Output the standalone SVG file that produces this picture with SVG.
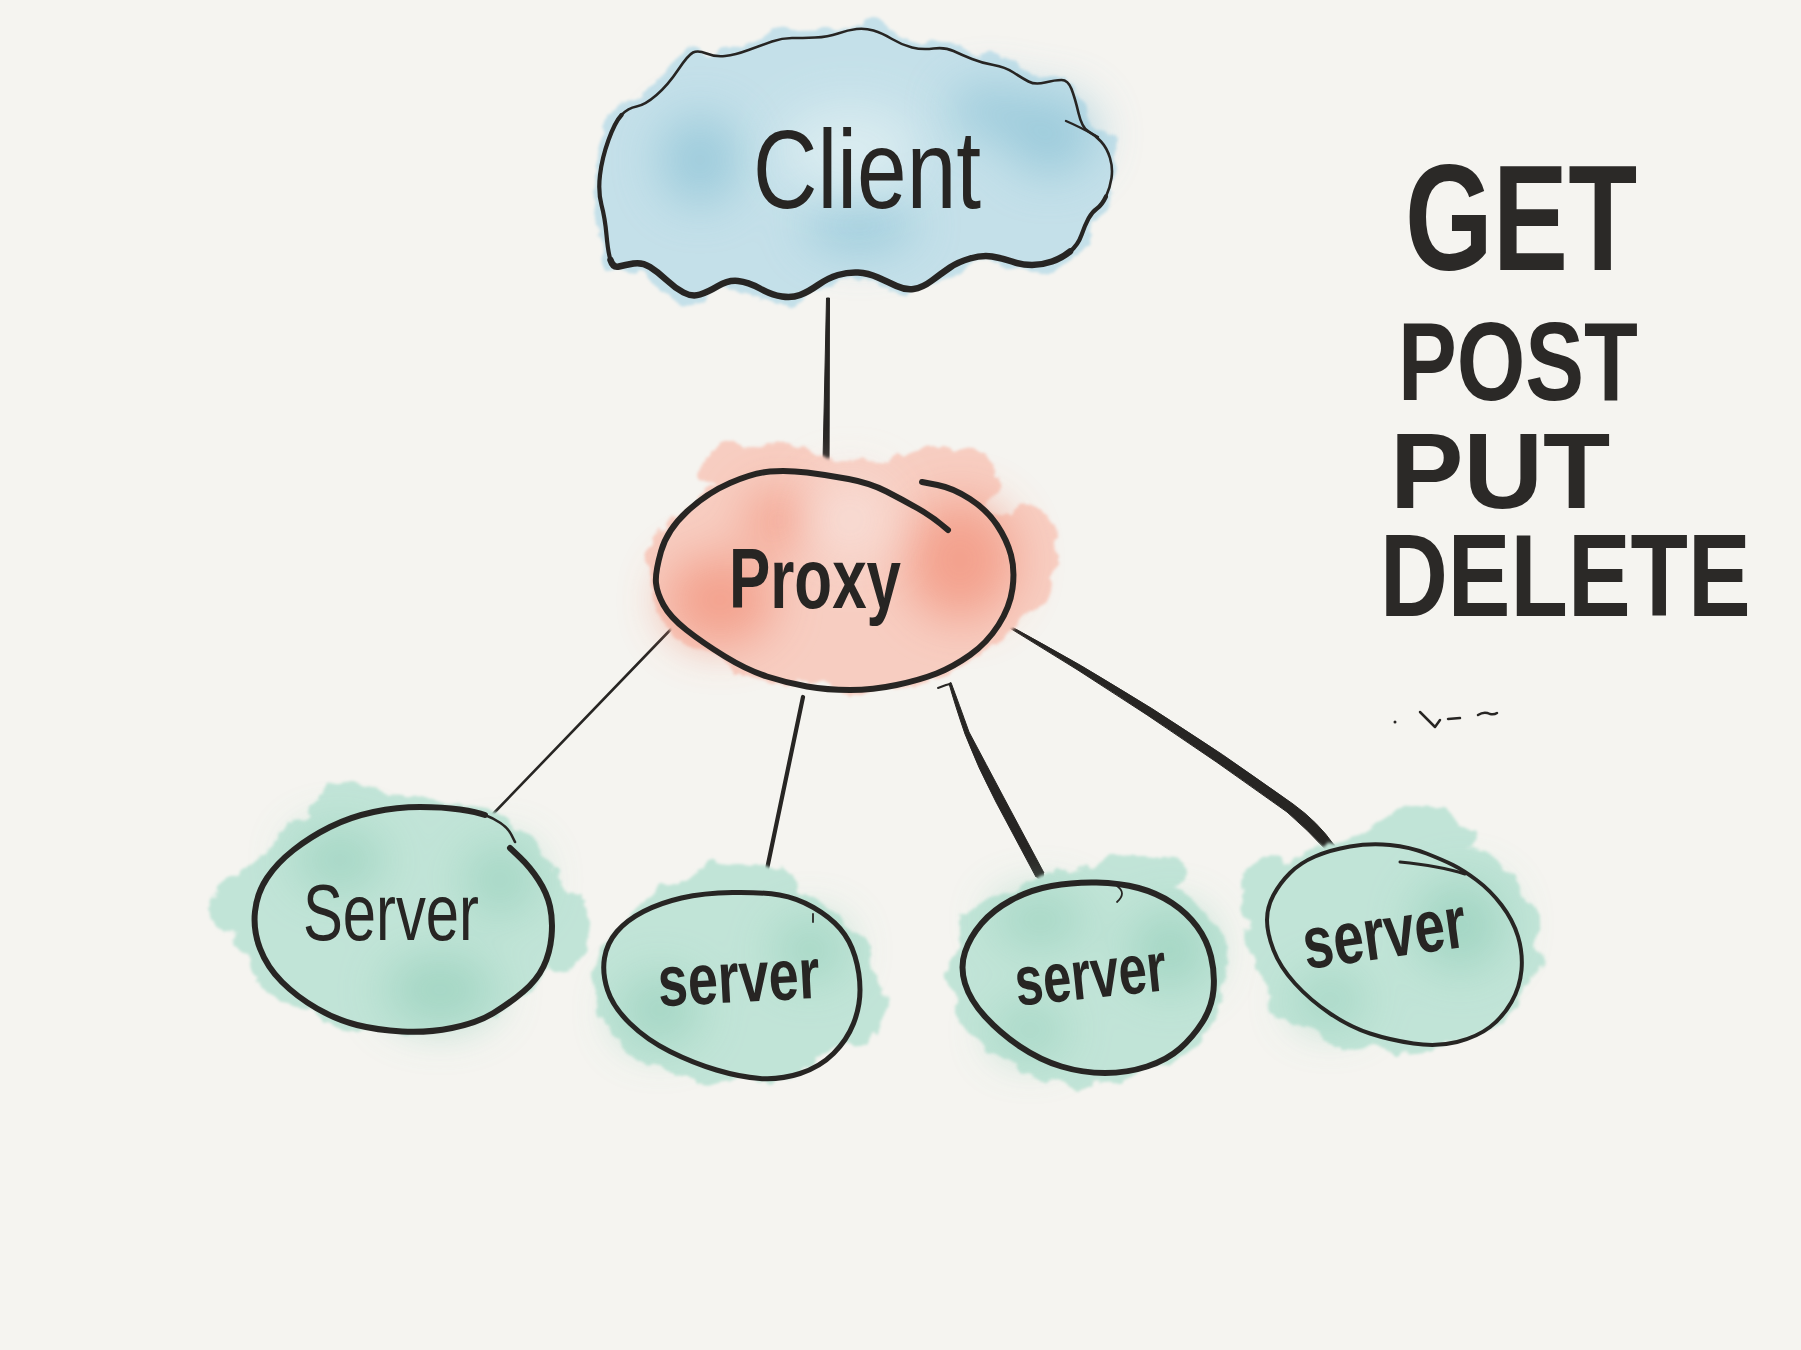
<svg xmlns="http://www.w3.org/2000/svg" width="1801" height="1350" viewBox="0 0 1801 1350">
<defs>
<style>
.ink{fill:none;stroke:#272523;stroke-linecap:round;stroke-linejoin:round}
.inkf{fill:#272523;stroke:#272523;stroke-linejoin:round;stroke-width:1}
.lbl{font-family:"Liberation Sans","DejaVu Sans",sans-serif;fill:#272523}
.big{font-family:"Liberation Sans","DejaVu Sans",sans-serif;font-weight:bold;fill:#2b2927}
</style>
<filter id="wc" x="-30%" y="-30%" width="160%" height="160%">
<feTurbulence type="fractalNoise" baseFrequency="0.03" numOctaves="4" seed="7" result="t"/>
<feDisplacementMap in="SourceGraphic" in2="t" scale="26" xChannelSelector="R" yChannelSelector="G" result="d"/>
<feGaussianBlur in="d" stdDeviation="1.5"/>
</filter>
<filter id="blot" x="-60%" y="-60%" width="220%" height="220%">
<feGaussianBlur stdDeviation="24"/>
</filter>
</defs>
<rect width="1801" height="1350" fill="#f5f4f0"/>

<g id="connectors">
<path class="inkf" d="M826.5,298 L829.5,298 L829,484 L822.5,484 Z"/>
<circle cx="825.7" cy="484" r="3.4" fill="#272523"/>
<path class="ink" stroke-width="2.6" d="M675,625 L492,815"/>
<path class="ink" stroke-width="4.2" d="M803,697 L762,893"/>
<path class="ink" stroke-width="2" d="M938,688 L946,685 L950,684"/>
<path class="inkf" d="M949,683.5 Q955,705 965,734 Q978,768 996,802 L1036,877 L1044,873 L1004,798 Q986,764 969,732 Q959,704 951,682.5 Z"/>
<circle cx="1040" cy="875" r="4.2" fill="#272523"/>
<path class="inkf" d="M1010.6,626.2 Q1152,702 1293,804 Q1318,822 1334,845 L1327,851 Q1308,830 1287,812 Q1146,710 1009.4,627.8 Z"/>
<circle cx="1331" cy="848" r="4.8" fill="#272523"/>
</g>

<g id="client">
<path filter="url(#wc)" fill="#c4e0e9" stroke="#c4e0e9" stroke-width="14" d="M601.5,205 Q598,192 600,175 Q602,158 608.5,140 Q615,122 621.5,115 Q628,108 636.5,106.5 Q645,105 656.5,95 Q668,85 678,70 Q688,55 693,52.5 Q698,50 706.5,53.5 Q715,57 725,56 Q735,55 748.5,50 Q762,45 772,41.5 Q782,38 792,38 Q802,38 815,37.5 Q828,37 838,33.5 Q848,30 856.5,29 Q865,28 873.5,30.5 Q882,33 892,39 Q902,45 912,47.5 Q922,50 933.5,48.5 Q945,47 953.5,51 Q962,55 972,59 Q982,63 993.5,65 Q1005,67 1013.5,72.5 Q1022,78 1028.5,81.5 Q1035,85 1045,82.5 Q1055,80 1061.5,80 Q1068,80 1071.5,89 Q1075,98 1078.5,113 Q1082,128 1088.5,131.5 Q1095,135 1101,141.5 Q1107,148 1110,158 Q1113,168 1111.5,178 Q1110,188 1106,196.5 Q1102,205 1097,208.5 Q1092,212 1088.5,218.5 Q1085,225 1081.5,235 Q1078,245 1070,251.5 Q1062,258 1052,261.5 Q1042,265 1032,265 Q1022,265 1012,261.5 Q1002,258 992,256.5 Q982,255 970,258.5 Q958,262 950,267.5 Q942,273 932,280.5 Q922,288 913.5,289 Q905,290 896.5,286 Q888,282 878,277.5 Q868,273 858,272.5 Q848,272 838,275 Q828,278 818,285 Q808,292 800,295 Q792,298 782,296.5 Q772,295 760,288.5 Q748,282 738,281 Q728,280 718,286 Q708,292 700,294.5 Q692,297 683.5,292.5 Q675,288 666.5,280 Q658,272 650,267 Q642,262 633.5,263.5 Q625,265 619,266.5 Q613,268 610.5,260 Q608,252 606.5,235 Q605,218 601.5,205 Z"/>
<g filter="url(#blot)" fill="#93c6d8" opacity="0.8">
<ellipse cx="1050" cy="135" rx="45" ry="40"/>
<ellipse cx="700" cy="160" rx="40" ry="45"/>
<ellipse cx="860" cy="225" rx="55" ry="25"/>
<ellipse cx="990" cy="110" rx="40" ry="25"/>
</g>
<g filter="url(#blot)" fill="#dcedf1" opacity="0.9">
<ellipse cx="850" cy="150" rx="70" ry="45"/>
</g>
<path class="ink" stroke-width="2.6" d="M601.5,205 Q598,192 600,175 Q602,158 608.5,140 Q615,122 621.5,115 Q628,108 636.5,106.5 Q645,105 656.5,95 Q668,85 678,70 Q688,55 693,52.5 Q698,50 706.5,53.5 Q715,57 725,56 Q735,55 748.5,50 Q762,45 772,41.5 Q782,38 792,38 Q802,38 815,37.5 Q828,37 838,33.5 Q848,30 856.5,29 Q865,28 873.5,30.5 Q882,33 892,39 Q902,45 912,47.5 Q922,50 933.5,48.5 Q945,47 953.5,51 Q962,55 972,59 Q982,63 993.5,65 Q1005,67 1013.5,72.5 Q1022,78 1028.5,81.5 Q1035,85 1045,82.5 Q1055,80 1061.5,80 Q1068,80 1071.5,89 Q1075,98 1078.5,113 Q1082,128 1088.5,131.5 Q1095,135 1101,141.5 Q1107,148 1110,158 Q1113,168 1111.5,178 Q1110,188 1106,196.5"/>
<path class="ink" stroke-width="4.2" d="M1106,196.5 Q1102,205 1097,208.5 Q1092,212 1088.5,218.5 Q1085,225 1081.5,235 Q1078,245 1070,251.5"/>
<path class="ink" stroke-width="6.5" d="M1070,251.5 Q1062,258 1052,261.5 Q1042,265 1032,265 Q1022,265 1012,261.5 Q1002,258 992,256.5 Q982,255 970,258.5 Q958,262 950,267.5 Q942,273 932,280.5 Q922,288 913.5,289 Q905,290 896.5,286 Q888,282 878,277.5 Q868,273 858,272.5 Q848,272 838,275 Q828,278 818,285 Q808,292 800,295 Q792,298 782,296.5 Q772,295 760,288.5 Q748,282 738,281 Q728,280 718,286 Q708,292 700,294.5 Q692,297 683.5,292.5 Q675,288 666.5,280 Q658,272 650,267 Q642,262 633.5,263.5 Q625,265 619,266.5 Q613,268 610.5,260"/>
<path class="ink" stroke-width="4.2" d="M610.5,260 Q608,252 606.5,235 Q605,218 601.5,205 Q598,192 600,175 Q602,158 608.5,140 Q615,122 621.5,115"/>
<path class="ink" stroke-width="2.4" d="M1066,121 Q1080,127 1098,137"/>
<text class="lbl" x="753" y="208" font-size="112" textLength="228" lengthAdjust="spacingAndGlyphs">Client</text>
</g>

<g id="proxy">
<g filter="url(#wc)" fill="#f7cdc1">
<ellipse cx="842" cy="575" rx="192" ry="116"/>
<ellipse cx="760" cy="470" rx="60" ry="28"/>
<ellipse cx="940" cy="480" rx="60" ry="30"/>
<ellipse cx="1030" cy="560" rx="30" ry="50"/>
</g>
<g filter="url(#blot)" fill="#f39a84" opacity="0.85">
<ellipse cx="960" cy="560" rx="55" ry="60"/>
<ellipse cx="720" cy="600" rx="55" ry="45"/>
<ellipse cx="780" cy="520" rx="35" ry="30"/>
</g>
<g filter="url(#blot)" fill="#f8ddd5" opacity="0.9">
<ellipse cx="850" cy="520" rx="45" ry="45"/>
</g>
<path class="ink" stroke-width="6" d="M922,482 L937.5,485 Q953,488 970,499 Q987,510 997,525 Q1007,540 1011,555 Q1015,570 1012.5,588.5 Q1010,607 998.5,625 Q987,643 970,655 Q953,667 936.5,673.5 Q920,680 896.5,685 Q873,690 850,690 Q827,690 807,686.5 Q787,683 767,676.5 Q747,670 725,656.5 Q703,643 686.5,630 Q670,617 663.5,605 Q657,593 656,583 Q655,573 661,551.5 Q667,530 687,511.5 Q707,493 730,483 Q753,473 770,471.5 Q787,470 807,472.5 Q827,475 848.5,479 Q870,483 886.5,491.5 Q903,500 918,508.5 Q933,517 948,530"/>
<text class="lbl" x="729" y="608" font-size="86" font-weight="bold" textLength="172" lengthAdjust="spacingAndGlyphs">Proxy</text>
</g>

<g id="server1">
<g filter="url(#wc)" fill="#c1e4d7">
<ellipse cx="402" cy="915" rx="168" ry="118"/>
<ellipse cx="250" cy="905" rx="40" ry="30"/>
<ellipse cx="560" cy="930" rx="30" ry="40"/>
<ellipse cx="360" cy="810" rx="50" ry="25"/>
</g>
<g filter="url(#blot)" fill="#9dd3c0" opacity="0.85">
<ellipse cx="440" cy="990" rx="55" ry="35"/>
<ellipse cx="340" cy="860" rx="45" ry="30"/>
<ellipse cx="500" cy="880" rx="35" ry="35"/>
</g>
<path class="ink" stroke-width="6" d="M510,848 L520,857.5 Q530,867 538.5,880 Q547,893 550,906.5 Q553,920 551.5,936.5 Q550,953 543.5,966.5 Q537,980 523.5,991.5 Q510,1003 493.5,1013 Q477,1023 452,1028 Q427,1033 402,1031.5 Q377,1030 357,1025 Q337,1020 317,1008.5 Q297,997 282,982 Q267,967 260,948.5 Q253,930 255,911.5 Q257,893 267,878 Q277,863 293.5,850 Q310,837 330,827 Q350,817 373.5,812 Q397,807 420,807 Q443,807 460,809.5 Q477,812 485,815"/>
<path class="ink" stroke-width="2.6" d="M485,815 Q493,818 500.5,823 Q508,828 511.5,835 L515,842"/>
<text class="lbl" x="303" y="940" font-size="80" textLength="176" lengthAdjust="spacingAndGlyphs">Server</text>
</g>

<g id="server2">
<g filter="url(#wc)" fill="#c1e4d7">
<ellipse cx="733" cy="982" rx="140" ry="102"/>
<ellipse cx="740" cy="885" rx="60" ry="22"/>
<ellipse cx="860" cy="1000" rx="25" ry="40"/>
</g>
<g filter="url(#blot)" fill="#9dd3c0" opacity="0.85">
<ellipse cx="660" cy="1010" rx="40" ry="35"/>
<ellipse cx="810" cy="950" rx="35" ry="30"/>
</g>
<path class="ink" stroke-width="5" d="M732.5,892.5 Q762,892 779.5,895 Q797,898 813.5,907.5 Q830,917 840,928.5 Q850,940 855,956.5 Q860,973 860,990 Q860,1007 853.5,1023.5 Q847,1040 833.5,1053.5 Q820,1067 800,1073.5 Q780,1080 760,1078.5 Q740,1077 716.5,1070 Q693,1063 670,1051.5 Q647,1040 630,1023.5 Q613,1007 607.5,990 Q602,973 604.5,958 Q607,943 617,931.5 Q627,920 643.5,911.5 Q660,903 681.5,898 Q703,893 732.5,892.5 Z"/>
<path class="ink" stroke-width="1.8" d="M813,914 L813,922"/>
<text class="lbl" x="658" y="1002" font-size="72" font-weight="bold" textLength="162" lengthAdjust="spacingAndGlyphs" transform="rotate(-3 739 985)">server</text>
</g>

<g id="server3">
<g filter="url(#wc)" fill="#c1e4d7">
<ellipse cx="1088" cy="975" rx="140" ry="108"/>
<ellipse cx="1140" cy="875" rx="50" ry="20"/>
</g>
<g filter="url(#blot)" fill="#9dd3c0" opacity="0.85">
<ellipse cx="1170" cy="950" rx="40" ry="40"/>
<ellipse cx="1040" cy="920" rx="45" ry="25"/>
<ellipse cx="1030" cy="1030" rx="35" ry="25"/>
</g>
<path class="ink" stroke-width="6" d="M1051.5,886 Q1073,882 1096.5,882.5 Q1120,883 1138.5,888 Q1157,893 1172,903 Q1187,913 1197,926.5 Q1207,940 1211,956.5 Q1215,973 1213.5,990 Q1212,1007 1202.5,1022 Q1193,1037 1180,1048.5 Q1167,1060 1147,1066.5 Q1127,1073 1105,1073 Q1083,1073 1061.5,1066.5 Q1040,1060 1020,1046.5 Q1000,1033 985,1016.5 Q970,1000 965,983.5 Q960,967 965,952 Q970,937 981.5,923.5 Q993,910 1011.5,900 Q1030,890 1051.5,886 Z"/>
<path class="ink" stroke-width="1.8" d="M1117,886 Q1127,893 1117,902"/>
<text class="lbl" x="1015" y="998" font-size="70" font-weight="bold" textLength="152" lengthAdjust="spacingAndGlyphs" transform="rotate(-6 1091 980)">server</text>
</g>

<g id="server4">
<g filter="url(#wc)" fill="#c1e4d7">
<ellipse cx="1395" cy="942" rx="145" ry="112"/>
<ellipse cx="1420" cy="835" rx="50" ry="25"/>
<ellipse cx="1265" cy="890" rx="25" ry="35"/>
</g>
<g filter="url(#blot)" fill="#9dd3c0" opacity="0.85">
<ellipse cx="1460" cy="925" rx="45" ry="45"/>
<ellipse cx="1330" cy="1000" rx="35" ry="25"/>
</g>
<path class="ink" stroke-width="4" d="M1315,856.5 Q1330,850 1350,846.5 Q1370,843 1390,845 Q1410,847 1426.5,853.5 Q1443,860 1453,865 Q1463,870 1476.5,880 Q1490,890 1501.5,905 Q1513,920 1518,936.5 Q1523,953 1521.5,970 Q1520,987 1511.5,1002 Q1503,1017 1490,1027 Q1477,1037 1457,1042 Q1437,1047 1413.5,1043.5 Q1390,1040 1370,1033.5 Q1350,1027 1330,1013.5 Q1310,1000 1295,983.5 Q1280,967 1273.5,950 Q1267,933 1267,920 Q1267,907 1273.5,895 Q1280,883 1290,873 Q1300,863 1315,856.5 Z"/>
<path class="ink" stroke-width="3" d="M1400,862 Q1440,866 1465,874"/>
<text class="lbl" x="1303" y="958" font-size="74" font-weight="bold" textLength="164" lengthAdjust="spacingAndGlyphs" transform="rotate(-8 1385 940)">server</text>
</g>

<g id="methods">
<text class="big" font-size="150" transform="translate(1405 270) scale(0.753 1)">GET</text>
<text class="big" font-size="112" transform="translate(1398 400) scale(0.787 1)">POST</text>
<text class="big" font-size="108" transform="translate(1390 508) scale(1.02 1)">PUT</text>
<text class="big" font-size="116" transform="translate(1380 616) scale(0.81 1)">DELETE</text>
</g>

<g id="scribble">
<circle cx="1395" cy="722" r="1.5" fill="#272523"/>
<path class="ink" stroke-width="2.5" d="M1420,712 L1435,727 L1440,720"/>
<path class="ink" stroke-width="2.5" d="M1448,719 L1460,718"/>
<path class="ink" stroke-width="2.5" d="M1478,715 Q1484,711 1490,714 Q1494,715 1497,713"/>
</g>
</svg>
